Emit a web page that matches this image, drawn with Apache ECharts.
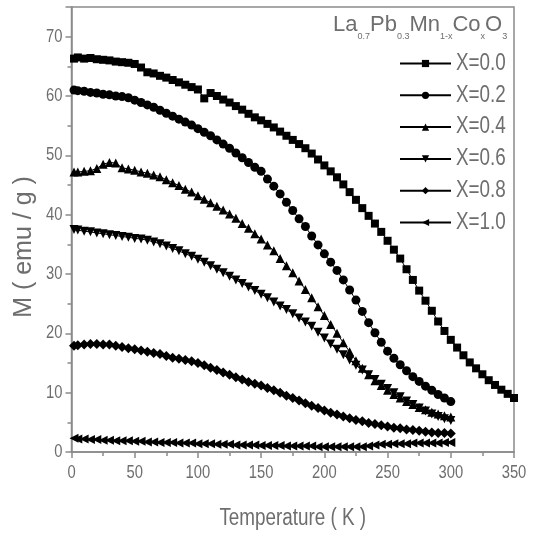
<!DOCTYPE html>
<html>
<head>
<meta charset="utf-8">
<script src="https://cdn.jsdelivr.net/npm/echarts@6/dist/echarts.min.js"></script>
<style>html,body{margin:0;padding:0;background:#fff;}#c{width:534px;height:537px;}</style>
</head>
<body>
<div id="c"></div>
<script>
// ---- data (Temperature K, M emu/g) ----
var seriesNames = ['X=0.0', 'X=0.2', 'X=0.4', 'X=0.6', 'X=0.8', 'X=1.0'];
var xTicks = [0, 50, 100, 150, 200, 250, 300, 350];
var yTicks = [0, 10, 20, 30, 40, 50, 60, 70];

var x00 = [[2,66.3],[5,66.5],[10,66.3],[15,66.4],[20,66.2],[25,66.1],[30,66.0],[35,65.8],[40,65.7],[45,65.6],[50,65.4],[55,64.8],[60,64.0],[65,63.8],[70,63.4],[75,63.1],[80,62.7],[85,62.3],[90,61.9],[95,61.5],[100,61.1],[105,59.6],[110,60.5],[115,60.0],[120,59.4],[125,58.9],[130,58.3],[135,57.7],[140,57.0],[145,56.4],[150,55.9],[155,55.3],[160,54.7],[165,54.0],[170,53.3],[175,52.6],[180,51.9],[185,51.2],[190,50.3],[195,49.3],[200,48.3],[205,47.3],[210,46.3],[215,45.1],[220,43.8],[225,42.5],[230,41.1],[235,39.8],[240,38.5],[245,37.1],[250,35.6],[255,34.1],[260,32.6],[265,30.8],[270,29.0],[275,27.2],[280,25.5],[285,23.8],[290,22.0],[295,20.4],[300,18.9],[305,17.6],[310,16.3],[315,15.1],[320,14.1],[325,13.1],[330,12.1],[335,11.3],[340,10.5],[345,9.8],[350,9.1]];

var x02 = [[2,61.0],[5,60.9],[10,60.8],[15,60.6],[20,60.5],[25,60.3],[30,60.2],[35,60.0],[40,59.9],[45,59.7],[50,59.3],[55,58.9],[60,58.5],[65,58.1],[70,57.6],[75,57.1],[80,56.6],[85,56.1],[90,55.6],[95,55.1],[100,54.5],[105,53.9],[110,53.3],[115,52.6],[120,51.9],[125,51.2],[130,50.4],[135,49.6],[140,48.8],[145,48.0],[150,47.3],[155,46.0],[160,44.8],[165,43.5],[170,42.1],[175,40.7],[180,39.3],[185,38.0],[190,36.4],[195,34.9],[200,33.4],[205,32.0],[210,30.6],[215,29.0],[220,27.3],[225,25.6],[230,23.7],[235,21.8],[240,20.1],[245,18.5],[250,17.0],[255,15.8],[260,14.7],[265,13.7],[270,12.7],[275,11.9],[280,11.1],[285,10.4],[290,9.7],[295,9.1],[300,8.5]];

var x04 = [[2,47.2],[5,47.2],[10,47.3],[15,47.4],[20,47.8],[25,48.5],[30,48.8],[35,48.7],[40,47.9],[45,47.7],[50,47.5],[55,47.2],[60,47.0],[65,46.7],[70,46.4],[75,45.9],[80,45.4],[85,44.9],[90,44.3],[95,43.8],[100,43.2],[105,42.6],[110,42.0],[115,41.4],[120,40.8],[125,40.1],[130,39.4],[135,38.5],[140,37.7],[145,36.8],[150,35.9],[155,34.9],[160,33.9],[165,32.6],[170,31.4],[175,30.2],[180,28.8],[185,27.4],[190,26.0],[195,24.5],[200,23.0],[205,21.5],[210,20.0],[215,18.4],[220,16.9],[225,15.4],[230,14.1],[235,13.0],[240,12.0],[245,11.2],[250,10.4],[255,9.7],[260,9.1],[265,8.5],[270,8.0],[275,7.5],[280,7.1],[285,6.7],[290,6.4],[295,6.1],[300,5.9]];

var x06 = [[2,37.5],[5,37.4],[10,37.2],[15,37.1],[20,36.9],[25,36.8],[30,36.6],[35,36.5],[40,36.3],[45,36.2],[50,36.0],[55,35.9],[60,35.7],[65,35.4],[70,35.1],[75,34.7],[80,34.3],[85,33.9],[90,33.4],[95,33.0],[100,32.5],[105,32.0],[110,31.4],[115,30.8],[120,30.2],[125,29.6],[130,29.0],[135,28.4],[140,27.8],[145,27.2],[150,26.6],[155,26.0],[160,25.3],[165,24.6],[170,24.0],[175,23.3],[180,22.6],[185,21.9],[190,21.2],[195,20.2],[200,19.2],[205,18.2],[210,17.3],[215,16.4],[220,15.5],[225,14.6],[230,13.8],[235,13.0],[240,12.2],[245,11.4],[250,10.7],[255,10.0],[260,9.3],[265,8.6],[270,8.0],[275,7.4],[280,6.9],[285,6.4],[290,6.0],[295,5.6],[300,5.3]];

var x08 = [[2,17.9],[5,18.0],[10,18.1],[15,18.2],[20,18.2],[25,18.1],[30,18.1],[35,17.9],[40,17.7],[45,17.5],[50,17.3],[55,17.1],[60,16.9],[65,16.7],[70,16.5],[75,16.2],[80,15.9],[85,15.7],[90,15.5],[95,15.3],[100,15.0],[105,14.6],[110,14.2],[115,13.8],[120,13.4],[125,13.0],[130,12.6],[135,12.2],[140,11.8],[145,11.5],[150,11.2],[155,10.8],[160,10.4],[165,10.0],[170,9.5],[175,9.1],[180,8.7],[185,8.2],[190,7.8],[195,7.4],[200,7.0],[205,6.6],[210,6.3],[215,6.0],[220,5.7],[225,5.4],[230,5.2],[235,4.9],[240,4.7],[245,4.5],[250,4.3],[255,4.1],[260,4.0],[265,3.8],[270,3.7],[275,3.6],[280,3.4],[285,3.3],[290,3.2],[295,3.2],[300,3.1]];

var x10 = [[2,2.3],[5,2.2],[10,2.2],[15,2.1],[20,2.1],[25,2.0],[30,2.0],[35,1.9],[40,1.9],[45,1.9],[50,1.8],[55,1.8],[60,1.7],[65,1.7],[70,1.6],[75,1.6],[80,1.6],[85,1.5],[90,1.5],[95,1.5],[100,1.4],[105,1.4],[110,1.4],[115,1.3],[120,1.3],[125,1.3],[130,1.2],[135,1.2],[140,1.2],[145,1.2],[150,1.1],[155,1.1],[160,1.1],[165,1.1],[170,1.0],[175,1.0],[180,1.0],[185,1.0],[190,1.0],[195,0.9],[200,0.9],[205,0.9],[210,0.9],[215,0.9],[220,0.9],[225,0.9],[230,0.9],[235,1.0],[240,1.2],[245,1.3],[250,1.3],[255,1.4],[260,1.4],[265,1.4],[270,1.5],[275,1.5],[280,1.5],[285,1.5],[290,1.5],[295,1.6],[300,1.6]];

var allData = [x00, x02, x04, x06, x08, x10];
var symbols = ['rect', 'circle', 'triangle', 'triangle', 'diamond', 'triangle'];
var rotations = [0, 0, 0, 180, 0, 90];
var sizes = [8, 9, 9, 9, 10, 9];

var YNAME = 'M ( emu / g )';
var TITLE_PARTS = ['La', '0.7', 'Pb', '0.3', 'Mn', '1-x', 'Co', 'x', 'O', '3'];

// Horizontal text in the source figure is condensed (narrow sans);
// emulate a narrow face by compressing glyphs horizontally.
(function () {
  var P = CanvasRenderingContext2D.prototype;
  var origFill = P.fillText, origMeasure = P.measureText;
  var K = 0.82;
  function skip(t) { return t === YNAME || TITLE_PARTS.indexOf(t) >= 0; }
  P.fillText = function (t, x, y) {
    if (skip(t)) return origFill.apply(this, arguments);
    this.save();
    this.translate(x, y);
    this.scale(K, 1);
    origFill.call(this, t, 0, 0);
    this.restore();
  };
  P.measureText = function (t) {
    var r = origMeasure.call(this, t);
    if (skip(t)) return r;
    return {
      width: r.width * K,
      actualBoundingBoxLeft: r.actualBoundingBoxLeft * K,
      actualBoundingBoxRight: r.actualBoundingBoxRight * K,
      actualBoundingBoxAscent: r.actualBoundingBoxAscent,
      actualBoundingBoxDescent: r.actualBoundingBoxDescent,
      fontBoundingBoxAscent: r.fontBoundingBoxAscent,
      fontBoundingBoxDescent: r.fontBoundingBoxDescent
    };
  };
})();

var FONT = "'Liberation Sans', Arial, sans-serif";
var GRAY = '#6e6e6e';
var AXIS = '#8a8a8a';

var chart = echarts.init(document.getElementById('c'), null, {renderer: 'canvas'});

var series = allData.map(function (d, i) {
  return {
    name: seriesNames[i],
    type: 'line',
    data: d,
    xAxisIndex: 0,
    yAxisIndex: 0,
    symbol: symbols[i],
    symbolSize: sizes[i],
    symbolRotate: rotations[i],
    showAllSymbol: true,
    color: '#000',
    itemStyle: {color: '#000'},
    lineStyle: {color: '#000', width: 1},
    emphasis: {disabled: true},
    animation: false
  };
});

chart.setOption({
  animation: false,
  backgroundColor: '#fff',
  grid: {left: 71.5, right: 20, top: 7, bottom: 85, show: true, borderColor: AXIS, borderWidth: 1.5, backgroundColor: 'transparent'},
  legend: {
    data: seriesNames,
    orient: 'vertical',
    left: 394,
    top: 47.5,
    itemWidth: 51,
    itemHeight: 9,
    itemGap: 9.8,
    textStyle: {color: GRAY, fontFamily: FONT, fontSize: 23, lineHeight: 22},
    selectedMode: false
  },
  xAxis: [{
    type: 'value', min: 0, max: 350, interval: 50,
    axisLine: {show: true, lineStyle: {color: AXIS, width: 1.5}},
    axisTick: {show: true, inside: false, length: 6, lineStyle: {color: AXIS, width: 1.5}},
    minorTick: {show: true, splitNumber: 2, length: 4, lineStyle: {color: AXIS, width: 1.5}},
    splitLine: {show: false},
    axisLabel: {color: GRAY, fontFamily: FONT, fontSize: 18, margin: 14,
      formatter: function (v) { return xTicks.indexOf(v) >= 0 ? String(v) : ''; }},
    name: 'Temperature ( K )', nameLocation: 'middle', nameGap: 57,
    nameTextStyle: {color: GRAY, fontFamily: FONT, fontSize: 23}
  }],
  yAxis: [{
    type: 'value', min: 0, max: 75, interval: 10,
    axisLine: {show: true, lineStyle: {color: AXIS, width: 1.5}},
    axisTick: {show: true, inside: false, length: 6, lineStyle: {color: AXIS, width: 1.5}},
    splitLine: {show: false},
    axisLabel: {color: GRAY, fontFamily: FONT, fontSize: 18, margin: 9,
      formatter: function (v) { return yTicks.indexOf(v) >= 0 ? String(v) : ''; }}
  }, {
    type: 'value', min: 0, max: 75, interval: 5, position: 'left', offset: 0,
    axisLine: {show: false},
    axisTick: {show: true, inside: false, length: 4, lineStyle: {color: AXIS, width: 1.5}},
    splitLine: {show: false},
    axisLabel: {show: false}
  }],
  graphic: [{
    type: 'text',
    left: 333, top: 16,
    silent: true,
    style: {
      text: '{a|La}{s|0.7}{a|Pb}{s|0.3}{a|Mn}{s|1-x}{a|Co}{s|x}{a|O}{s|3}',
      rich: {
        a: {fontFamily: FONT, fontSize: 22, lineHeight: 24, fill: GRAY, color: GRAY},
        s: {fontFamily: FONT, fontSize: 9, lineHeight: 10, verticalAlign: 'bottom', fill: GRAY, color: GRAY, padding: [0, 0, -3, 0]}
      }
    }
  }, {
    type: 'text',
    x: 24, y: 247,
    rotation: Math.PI / 2,
    silent: true,
    style: {
      text: YNAME,
      fontFamily: FONT,
      fontSize: 25,
      fill: GRAY,
      align: 'center',
      verticalAlign: 'middle'
    }
  }],
  series: series
});
</script>
</body>
</html>
